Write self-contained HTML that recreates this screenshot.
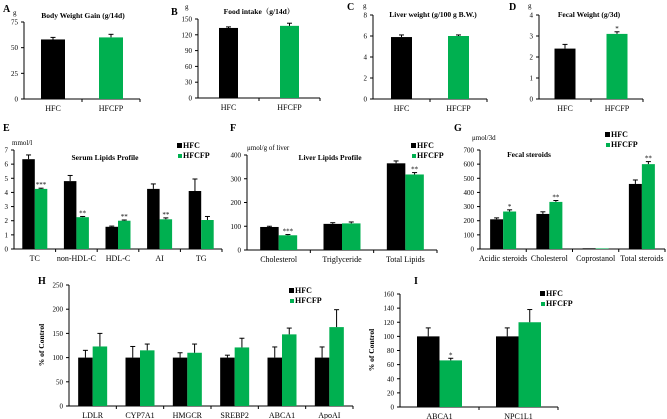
<!DOCTYPE html>
<html><head><meta charset="utf-8">
<style>
html,body{margin:0;padding:0;background:#fff;}
svg{display:block;}
text{font-family:"Liberation Serif","Noto Serif CJK SC",serif;fill:#000;}
</style></head>
<body>
<svg id="fig" width="667" height="419" viewBox="0 0 667 419" xmlns="http://www.w3.org/2000/svg"></svg>
<script>
// ---- Data arrays ----
const catsA=["HFC","HFCFP"]; const valsA=[58]; const valsA2=[60]; const errA=[2]; const errA2=[3]; const starsA=[""];
const ticksA=[0,25,50,75];
const catsB=["HFC","HFCFP"]; const valsB=[133]; const valsB2=[137]; const errB=[2]; const errB2=[5]; const starsB=[""];
const ticksB=[0,30,60,90,120,150];
const catsC=["HFC","HFCFP"]; const valsC=[5.9]; const valsC2=[6.0]; const errC=[0.2]; const errC2=[0.1]; const starsC=[""];
const ticksC=[0,2,4,6,8];
const catsD=["HFC","HFCFP"]; const valsD=[2.4]; const valsD2=[3.1]; const errD=[0.2]; const errD2=[0.1]; const starsD=["*"];
const ticksD=[0,1,2,3,4];

const catsE=["TC","non-HDL-C","HDL-C","AI","TG"];
const hfcE=[6.35,4.8,1.57,4.25,4.1]; const hfcErrE=[0.3,0.4,0.05,0.35,0.85];
const hfcfpE=[4.25,2.25,2.0,2.1,2.05]; const hfcfpErrE=[0.05,0.05,0.05,0.1,0.25];
const starsE=["***","**","**","**",""]; const ticksE=[0,1,2,3,4,5,6,7];

const catsF=["Cholesterol","Triglyceride","Total Lipids"];
const hfcF=[97,110,365]; const hfcErrF=[3,5,10];
const hfcfpF=[62,112,318]; const hfcfpErrF=[3,6,8];
const starsF=["***","","**"]; const ticksF=[0,100,200,300,400];

const catsG=["Acidic steroids","Cholesterol","Coprostanol","Total steroids"];
const hfcG=[210,248,5,460]; const hfcErrG=[10,15,0,28];
const hfcfpG=[265,333,4,600]; const hfcfpErrG=[12,10,0,18];
const starsG=["*","**","","**"]; const ticksG=[0,100,200,300,400,500,600,700];

const catsH=["LDLR","CYP7A1","HMGCR","SREBP2","ABCA1","ApoAI"];
const hfcH=[100,100,100,100,100,100]; const hfcErrH=[15,23,10,5,22,22];
const hfcfpH=[123,115,110,121,148,163]; const hfcfpErrH=[27,13,18,19,13,36];
const starsH=["","","","","",""]; const ticksH=[0,50,100,150,200,250];

const catsI=["ABCA1","NPC1L1"];
const hfcI=[100,100]; const hfcErrI=[12,12];
const hfcfpI=[66,120]; const hfcfpErrI=[3,18];
const starsI=["*",""]; const ticksI=[0,20,40,60,80,100,120,140,160];

const NS="http://www.w3.org/2000/svg";
const svg=document.getElementById('fig');
const GREEN="#00b050";
function mk(tag,attrs,parent,txt){const e=document.createElementNS(NS,tag);for(const k in attrs)e.setAttribute(k,attrs[k]);if(txt!==undefined)e.textContent=txt;(parent||svg).appendChild(e);return e;}

function txt(x,y,s,size,opts,parent){
  const t=mk('text',{x:x,y:y,'font-size':size,'text-anchor':(opts&&opts.anchor)||'start','font-weight':(opts&&opts.bold)?'bold':'normal'},parent,s);
  if(opts&&opts.rot)t.setAttribute('transform','rotate(-90 '+x+' '+y+')');
  return t;
}

// Grouped panel: each group has HFC bar + HFCFP bar
function panel(p){
  const g=mk('g',{});
  
  
  const ymax=p.ticks[p.ticks.length-1];
  const sy=v=>p.y0-(v/ymax)*(p.y0-p.yt);
  // axes
  const ax=mk('g',{},g);
  
  
  mk('line',{x1:p.ax,y1:p.yt,x2:p.ax,y2:p.y0,stroke:'#000','stroke-width':1},ax);
  p.ticks.forEach(t=>{
    const y=sy(t);
    mk('line',{x1:p.ax-3,y1:y,x2:p.ax,y2:y,stroke:'#000','stroke-width':1},ax);
    const l=txt(p.ax-6,y+2.5,String(t),p.tfs||7,{anchor:'end'},ax);
    
    
  });
  const xa=mk('g',{},g);
  
  
  mk('line',{x1:p.ax,y1:p.y0,x2:p.xe,y2:p.y0,stroke:'#000','stroke-width':1},xa);
  const n=p.cats.length;
  const gw=(p.xe-p.ax)/n;
  for(let i=1;i<=n;i++){const x=p.ax+gw*i;mk('line',{x1:x,y1:p.y0,x2:x,y2:p.y0+3,stroke:'#000','stroke-width':1},xa);}
  for(let i=0;i<n;i++){
    const cx=p.ax+gw*(i+0.5);
    const series=[[p.v1[i],p.e1[i],'#000',-1],[p.v2[i],p.e2[i],GREEN,0]];
    series.forEach((s,k)=>{
      const x=cx+(k===0?-p.bw:0)+(p.off||0);
      const y=sy(s[0]);
      const r=mk('rect',{x:x,y:y,width:p.bw,height:p.y0-y,fill:s[2]},g);
      
      
      if(s[1]>0){
        const ye=sy(s[0]+s[1]);
        const bx=x+p.bw/2;
        mk('line',{x1:bx,y1:y,x2:bx,y2:ye,stroke:'#000','stroke-width':1},g);
        mk('line',{x1:bx-2.5,y1:ye,x2:bx+2.5,y2:ye,stroke:'#000','stroke-width':1},g);
      }
      if(k===1&&p.stars[i]){
        const st=txt(x+p.bw/2,sy(s[0]+(s[1]||0))-1,p.stars[i],7,{anchor:'middle'},g);
        
        
      }
    });
    const lab=txt(cx+(p.off||0),p.y0+12,p.cats[i],p.xfs||8,{anchor:'middle'},g);
    
    
  }
  return g;
}

// Two-bar panels (A-D): categories are HFC and HFCFP, each a single bar
function panel2(p){
  const g=mk('g',{});
  
  
  const ymax=p.ticks[p.ticks.length-1];
  const sy=v=>p.y0-(v/ymax)*(p.y0-p.yt);
  const ax=mk('g',{},g);
  
  
  mk('line',{x1:p.ax,y1:p.yt,x2:p.ax,y2:p.y0,stroke:'#000','stroke-width':1},ax);
  p.ticks.forEach(t=>{const y=sy(t);mk('line',{x1:p.ax-3,y1:y,x2:p.ax,y2:y,stroke:'#000'},ax);
    const l=txt(p.ax-6,y+2.5,String(t),7,{anchor:'end'},ax);
    
    });
  const xa=mk('g',{},g);
  
  
  mk('line',{x1:p.ax,y1:p.y0,x2:p.xe,y2:p.y0,stroke:'#000'},xa);
  const gw=(p.xe-p.ax)/2;
  mk('line',{x1:p.ax+gw,y1:p.y0,x2:p.ax+gw,y2:p.y0+3,stroke:'#000'},xa);
  mk('line',{x1:p.xe,y1:p.y0,x2:p.xe,y2:p.y0+3,stroke:'#000'},xa);
  const vals=[p.v1[0],p.v2[0]], errs=[p.e1[0],p.e2[0]];
  for(let i=0;i<2;i++){
    const cx=p.ax+gw*(i+0.5);
    const x=cx-p.bw/2, y=sy(vals[i]);
    const r=mk('rect',{x:x,y:y,width:p.bw,height:p.y0-y,fill:i?GREEN:'#000'},g);
    
    
    const ye=sy(vals[i]+errs[i]);
    mk('line',{x1:cx,y1:y,x2:cx,y2:ye,stroke:'#000'},g);
    mk('line',{x1:cx-2.5,y1:ye,x2:cx+2.5,y2:ye,stroke:'#000'},g);
    if(i===1&&p.stars[0]){const st=txt(cx,ye-1,p.stars[0],7,{anchor:'middle'},g);
      
      }
    const lab=txt(cx,p.y0+12,p.cats[i],8,{anchor:'middle'},g);
    
    
  }
}

function label(x,y,s,size,bold,name,anchor,rot){
  const t=txt(x,y,s,size,{bold:bold,anchor:anchor||'start',rot:rot});
  
  
}
function legend(x,y1,y2,name){
  const g=mk('g',{});
  
  
  mk('rect',{x:x,y:y1-5,width:5,height:5,fill:'#000'},g);
  const a=txt(x+6,y1,'HFC',8,{bold:true},g);
  
  
  mk('rect',{x:x+1,y:y2-4,width:4,height:4,fill:GREEN},g);
  const b=txt(x+6,y2,'HFCFP',8,{bold:true},g);
  
  
}

// Panel A
panel2({name:'panel-a-body-weight',ax:24,yt:22,y0:99,xe:140,bw:24,ticks:ticksA,cats:catsA,v1:valsA,v2:valsA2,e1:errA,e2:errA2,stars:starsA});
label(3,12,'A',10,true,'panel-label-a');label(13,15,'g',7,false,'y-unit-a');
label(83,18,'Body Weight Gain (g/14d)',7.5,true,'title-a','middle');
// Panel B
panel2({name:'panel-b-food-intake',ax:198,yt:19,y0:98,xe:320,bw:19,ticks:ticksB,cats:catsB,v1:valsB,v2:valsB2,e1:errB,e2:errB2,stars:starsB});
label(171,15,'B',10,true,'panel-label-b');label(185,9,'g',7,false,'y-unit-b');
label(259,14,'Food intake（g/14d）',7.5,true,'title-b','middle');
// Panel C
panel2({name:'panel-c-liver-weight',ax:373,yt:15,y0:99,xe:487,bw:21,ticks:ticksC,cats:catsC,v1:valsC,v2:valsC2,e1:errC,e2:errC2,stars:starsC});
label(347,10,'C',10,true,'panel-label-c');label(363,8,'g',7,false,'y-unit-c');
label(433,17,'Liver weight (g/100 g B.W.)',7.5,true,'title-c','middle');
// Panel D
panel2({name:'panel-d-fecal-weight',ax:539,yt:15,y0:99,xe:643,bw:21,ticks:ticksD,cats:catsD,v1:valsD,v2:valsD2,e1:errD,e2:errD2,stars:starsD});
label(509,10,'D',10,true,'panel-label-d');label(528,8,'g',7,false,'y-unit-d');
label(589,17,'Fecal Weight (g/3d)',7.5,true,'title-d','middle');

// Panel E
panel({name:'panel-e-serum-lipids',ax:14,yt:150,y0:249,xe:222,bw:12.5,ticks:ticksE,cats:catsE,v1:hfcE,v2:hfcfpE,e1:hfcErrE,e2:hfcfpErrE,stars:starsE,off:0});
label(3,131,'E',10,true,'panel-label-e');label(12,145,'mmol/l',7,false,'y-unit-e');
label(105,160,'Serum Lipids Profile',7.5,true,'title-e','middle');
legend(177,148,158,'legend-e');
// Panel F
panel({name:'panel-f-liver-lipids',ax:247,yt:155,y0:250,xe:437,bw:18.5,ticks:ticksF,cats:catsF,v1:hfcF,v2:hfcfpF,e1:hfcErrF,e2:hfcfpErrF,stars:starsF});
label(230,131,'F',10,true,'panel-label-f');label(247,150,'μmol/g of liver',7,false,'y-unit-f');
label(330,160,'Liver Lipids Profile',7.5,true,'title-f','middle');
legend(411,148,158,'legend-f');
// Panel G
panel({name:'panel-g-fecal-steroids',ax:480,yt:150,y0:249,xe:665,bw:13,ticks:ticksG,cats:catsG,v1:hfcG,v2:hfcfpG,e1:hfcErrG,e2:hfcfpErrG,stars:starsG});
label(454,131,'G',10,true,'panel-label-g');label(472,140,'μmol/3d',7,false,'y-unit-g');
label(529,157,'Fecal steroids',7.5,true,'title-g','middle');
legend(605,137,147,'legend-g');
// Panel H
panel({name:'panel-h-gene-expression',ax:69,yt:285,y0:406,xe:353,bw:14.5,ticks:ticksH,cats:catsH,v1:hfcH,v2:hfcfpH,e1:hfcErrH,e2:hfcfpErrH,stars:starsH});
label(38,284,'H',10,true,'panel-label-h');
label(44,345,'% of Control',7.5,true,'y-axis-title-h','middle',true);
legend(289,293,303,'legend-h');
// Panel I
panel({name:'panel-i-gene-expression',ax:400,yt:294,y0:407,xe:558,bw:22.5,ticks:ticksI,cats:catsI,v1:hfcI,v2:hfcfpI,e1:hfcErrI,e2:hfcfpErrI,stars:starsI});
label(414,284,'I',10,true,'panel-label-i');
label(374,350,'% of Control',7.5,true,'y-axis-title-i','middle',true);
legend(540,296,306,'legend-i');
</script>
</body></html>
